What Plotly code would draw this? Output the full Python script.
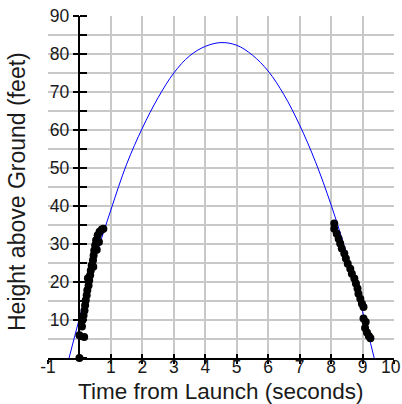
import plotly.graph_objects as go

# Fitted trajectory
CURVE_T = [-0.33, 0, 0.5, 1, 1.5, 2, 2.5, 3, 3.5, 4, 4.5, 5, 5.5, 6, 6.5, 7, 7.5, 8, 8.5, 9, 9.37]
CURVE_H = [0, 10.5, 26, 39, 51, 60.5, 68.5, 75, 79.5, 82, 83, 82.3, 79.7, 75.5, 69.3, 61.3, 51.7, 40.3, 27.2, 12.2, 0]

# Measured points, rising part
UP_T = [0, 0, 0.15, 0.08, 0.1, 0.13, 0.16, 0.18, 0.2, 0.23, 0.25, 0.27, 0.29, 0.31, 0.34, 0.36,
        0.39, 0.43, 0.44, 0.45, 0.47, 0.5, 0.53, 0.55, 0.58, 0.62, 0.64, 0.71, 0.76]
UP_H = [0, 6, 5.5, 8.3, 10, 11.2, 12.5, 13.9, 15.2, 16.5, 17.8, 21, 19.1, 20.4, 21.8, 23,
        24.4, 25.7, 24, 27, 28.3, 29.7, 31, 28.5, 32.3, 30.5, 33.2, 33.8, 34]

# Measured points, falling part
DOWN_T = [8.10, 8.10, 8.18, 8.24, 8.29, 8.34, 8.42, 8.47, 8.53, 8.61, 8.66, 8.74, 8.79, 8.84,
          8.87, 8.93, 8.98, 9.03, 9.03, 9.10, 9.08, 9.14, 9.20, 9.25]
DOWN_H = [35.4, 34.0, 32.7, 31.4, 30.1, 28.8, 27.5, 26.2, 24.8, 23.5, 22.2, 20.9, 19.6, 18.3,
          16.9, 15.6, 14.3, 13.4, 10.4, 9.5, 7.9, 6.7, 5.8, 5.2]

X_TICKS = [-1, 1, 2, 3, 4, 5, 6, 7, 8, 9, 10]
X_LABELS = ["-1", "1", "2", "3", "4", "5", "6", "7", "8", "9", "10"]
Y_TICKS = [10, 20, 30, 40, 50, 60, 70, 80, 90]
Y_LABELS = ["10", "20", "30", "40", "50", "60", "70", "80", "90"]

X_TITLE = "Time from Launch (seconds)"
Y_TITLE = "Height above Ground (feet)"

FONT = "Liberation Sans, Arial, sans-serif"
GRID = "#c8c8c8"
TXT = "#1a1a1a"
XR = [-1, 10]
YR = [0, 90]
ypos = (0 - XR[0]) / (XR[1] - XR[0])

# the last x label sits at the page edge; it is drawn as an annotation so it stays inside
axis_text = X_LABELS[:-1] + [""]

fig = go.Figure()
fig.add_trace(go.Scatter(x=CURVE_T, y=CURVE_H, mode="lines",
                         line=dict(color="#0000ff", width=1, shape="spline", smoothing=1.0),
                         hoverinfo="skip", xaxis="x", yaxis="y"))
fig.add_trace(go.Scatter(x=UP_T + DOWN_T, y=UP_H + DOWN_H, mode="markers",
                         marker=dict(color="black", size=8), cliponaxis=False,
                         xaxis="x2", yaxis="y2"))

fig.update_layout(
    width=402, height=404,
    margin=dict(l=48, r=8, t=16, b=46),
    paper_bgcolor="white", plot_bgcolor="white",
    showlegend=False,
    font=dict(family=FONT, size=17.5, color=TXT),
    xaxis=dict(range=XR, tickmode="array", tickvals=X_TICKS, ticktext=axis_text,
               ticks="outside", ticklen=4, tickwidth=1.5, tickcolor="black",
               ticklabelstandoff=-12, ticklabeloverflow="allow", automargin=False,
               showgrid=True, gridcolor=GRID, gridwidth=1.5,
               showline=True, linecolor="black", linewidth=1.5,
               zeroline=False, anchor="y", tickfont=dict(size=17.5, color=TXT)),
    xaxis2=dict(range=XR, overlaying="x", tickmode="array", tickvals=X_TICKS,
                ticks="inside", ticklen=4, tickwidth=1.5, tickcolor="black",
                showticklabels=False, showgrid=False, showline=False, zeroline=False,
                anchor="y", side="bottom", automargin=False),
    yaxis=dict(range=YR, anchor="free", position=ypos, tickmode="array",
               tickvals=Y_TICKS, ticktext=Y_LABELS,
               ticks="outside", ticklen=6, tickwidth=1.5, tickcolor="black",
               ticklabeloverflow="allow", automargin=False,
               showgrid=True, gridcolor=GRID, gridwidth=1.5,
               minor=dict(dtick=5, ticks="inside", ticklen=7, tickwidth=1.5,
                          tickcolor="black", showgrid=True, gridcolor=GRID, gridwidth=1.5),
               showline=True, linecolor="black", linewidth=1.5, zeroline=False,
               tickfont=dict(size=17.5, color=TXT)),
    yaxis2=dict(range=YR, overlaying="y", anchor="free", position=ypos,
                tickmode="array", tickvals=Y_TICKS, automargin=False,
                ticks="inside", ticklen=6, tickwidth=1.5, tickcolor="black",
                showticklabels=False, showgrid=False, showline=False, zeroline=False),
    annotations=[
        dict(text=X_LABELS[-1], xref="x", yref="y", x=X_TICKS[-1], y=YR[0],
             xanchor="right", yanchor="middle", xshift=8, yshift=-9, showarrow=False,
             borderpad=0, font=dict(size=17.5, color=TXT, family=FONT)),
        dict(text=X_TITLE, xref="paper", yref="paper", x=0.5, y=0, xanchor="center",
             yanchor="middle", yshift=-33, showarrow=False,
             font=dict(size=22.5, color=TXT, family=FONT)),
        dict(text=Y_TITLE, xref="paper", yref="paper", x=0, y=0.5, xanchor="center",
             yanchor="middle", xshift=-31, yshift=-5, textangle=-90, showarrow=False,
             font=dict(size=23, color=TXT, family=FONT)),
    ],
)

fig.write_html("out.html")
